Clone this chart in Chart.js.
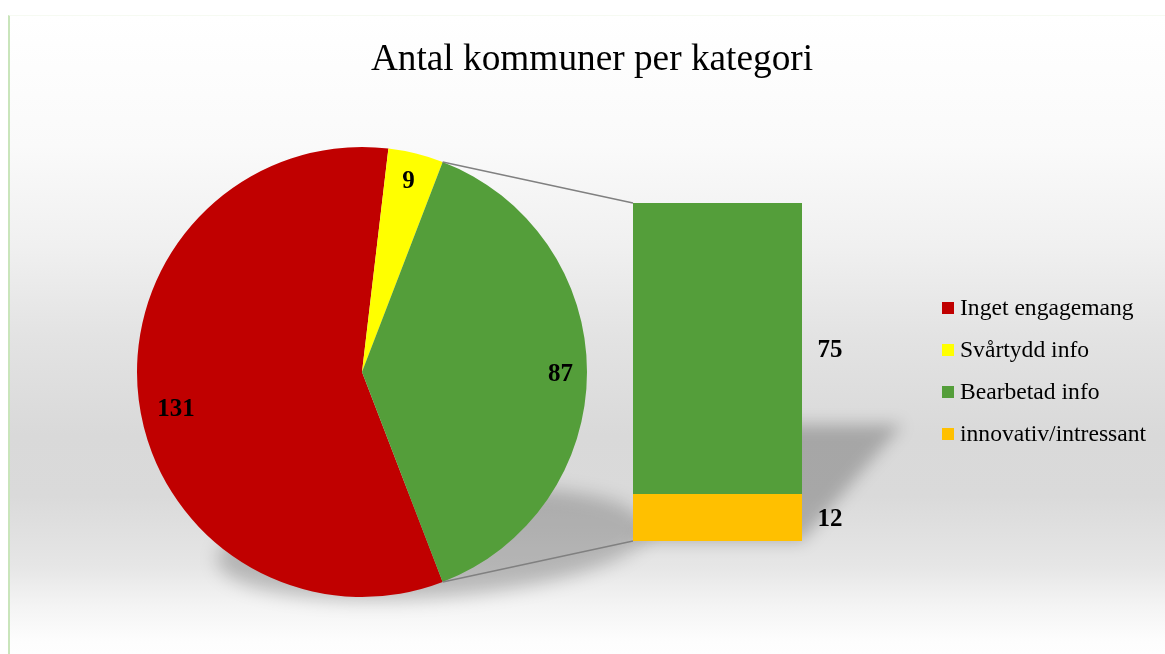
<!DOCTYPE html>
<html>
<head>
<meta charset="utf-8">
<script src="https://cdn.jsdelivr.net/npm/chart.js@4.4.1/dist/chart.umd.min.js"></script>
<style>
  html, body { margin:0; padding:0; }
  body { width:1165px; height:654px; overflow:hidden; background:#ffffff; position:relative; font-family:"Liberation Serif","Times New Roman",serif; }
  #frame { position:absolute; left:8px; top:15px; width:1170px; height:650px;
    border-left:2px solid #c9e5bb; border-top:1px solid #f6faf2;
    background: linear-gradient(to bottom, #ffffff 0px, #fafafa 130px, #f0f0f0 230px, #e3e3e3 320px, #d9d9d9 420px, #dadada 480px, #e6e6e6 550px, #f4f4f4 590px, #fdfdfd 625px, #ffffff 650px); }
  canvas { position:absolute; }
  #title { position:absolute; left:592px; top:39px; transform:translateX(-50%); white-space:nowrap; font-size:37.3px; line-height:1; color:#000; }
  .lg-text { position:absolute; white-space:nowrap; font-size:23.6px; line-height:1; color:#000; }
  .lg-box { position:absolute; width:12px; height:12px; }
</style>
</head>
<body>
<div id="frame"></div>
<canvas id="pie" width="1165" height="654" style="left:0;top:0;width:1165px;height:654px"></canvas>
<canvas id="bar" width="490" height="480" style="left:430px;top:140px;width:490px;height:480px"></canvas>
<div id="title"></div>
<div id="legend"></div>
<script>
const titleText = 'Antal kommuner per kategori';
const pieLabels = ['Inget engagemang', 'Svårtydd info', 'Bearbetad info'];
const pieValues = [131, 9, 87];
const pieColors = ['#C00000', '#FFFF00', '#549E3A'];
const barLabels = ['innovativ/intressant', 'Bearbetad info']; // bottom to top
const barValues = [12, 75];
const barColors = ['#FFC000', '#549E3A'];
const legendLabels = ['Inget engagemang', 'Svårtydd info', 'Bearbetad info', 'innovativ/intressant'];
const legendColors = ['#C00000', '#FFFF00', '#549E3A', '#FFC000'];

// label placement nudges (style only, pixels)
const pieLabelNudge = [[6, 14], [0, -3], [5, 3]];
const barLabelNudgeY = 2;

document.getElementById('title').textContent = titleText;
const lg = document.getElementById('legend');
legendLabels.forEach((t, i) => {
  const top = 295.5 + i * 42;
  const b = document.createElement('div');
  b.className = 'lg-box'; b.style.left = '942px'; b.style.top = (top + 6.5) + 'px'; b.style.background = legendColors[i];
  const s = document.createElement('div');
  s.className = 'lg-text'; s.style.left = '960px'; s.style.top = top + 'px'; s.textContent = t;
  lg.appendChild(b); lg.appendChild(s);
});

Chart.defaults.font.family = '"Liberation Serif","Times New Roman",serif';

// rotate so that the last ("other") slice is centred at 3 o'clock
const pieTotal = pieValues.reduce((a, b) => a + b, 0);
const before = pieValues.slice(0, pieValues.length - 1).reduce((a, b) => a + b, 0);
const rotation = ((90 - (before + pieValues[pieValues.length - 1] / 2) / pieTotal * 360) % 360 + 360) % 360;

const pieShadow = {
  id: 'pieShadow',
  beforeDatasetsDraw(chart) {
    const arc = chart.getDatasetMeta(0).data[0];
    if (!arc) return;
    const ctx = chart.ctx, R = arc.outerRadius;
    ctx.save();
    ctx.filter = 'blur(9px)';
    ctx.fillStyle = 'rgba(0,0,0,0.21)';
    ctx.translate(arc.x + 12, arc.y + R + 3);
    ctx.transform(0.92, 0, -0.26, 0.25, 0, 0);
    ctx.beginPath();
    ctx.arc(0, -R, R, 0, Math.PI * 2);
    ctx.fill();
    ctx.restore();
  }
};
const pieLabelsPlugin = {
  id: 'pieValueLabels',
  afterDatasetsDraw(chart) {
    const ctx = chart.ctx;
    const meta = chart.getDatasetMeta(0);
    ctx.save();
    ctx.font = 'bold 25px "Liberation Serif","Times New Roman",serif';
    ctx.fillStyle = '#000';
    ctx.textAlign = 'center';
    ctx.textBaseline = 'middle';
    meta.data.forEach((arc, i) => {
      const mid = (arc.startAngle + arc.endAngle) / 2;
      const r = arc.outerRadius * 0.86;
      const n = pieLabelNudge[i] || [0, 0];
      ctx.fillText(String(chart.data.datasets[0].data[i]), arc.x + Math.cos(mid) * r + n[0], arc.y + Math.sin(mid) * r + n[1]);
    });
    ctx.restore();
  }
};

const pieChart = new Chart(document.getElementById('pie'), {
  type: 'pie',
  data: { labels: pieLabels, datasets: [{ data: pieValues, backgroundColor: pieColors, borderWidth: 0 }] },
  options: {
    responsive: false, animation: false, rotation: rotation,
    layout: { padding: { left: 137, right: 578, top: 147, bottom: 57 } },
    plugins: { legend: { display: false }, tooltip: { enabled: false }, title: { display: false } }
  },
  plugins: [pieShadow, pieLabelsPlugin]
});

const barCanvas = document.getElementById('bar');
const barDecor = {
  id: 'barDecor',
  beforeDatasetsDraw(chart) {
    const ctx = chart.ctx;
    const m0 = chart.getDatasetMeta(0).data[0];
    const mN = chart.getDatasetMeta(chart.data.datasets.length - 1).data[0];
    const L = m0.x - m0.width / 2, W = m0.width, B = m0.base, T = mN.y, H = B - T;
    // shadow
    ctx.save();
    ctx.filter = 'blur(8px)';
    ctx.fillStyle = 'rgba(0,0,0,0.23)';
    ctx.translate(0, B);
    ctx.transform(1, 0, -0.296, 0.345, 0, 0);
    ctx.fillRect(L, -H, W, H);
    ctx.restore();
    // connector lines from the pie's "other" slice
    const other = pieChart.getDatasetMeta(0).data[pieValues.length - 1];
    const ox = barCanvas.offsetLeft, oy = barCanvas.offsetTop;
    const p1 = [other.x + Math.cos(other.startAngle) * other.outerRadius - ox, other.y + Math.sin(other.startAngle) * other.outerRadius - oy];
    const p2 = [other.x + Math.cos(other.endAngle) * other.outerRadius - ox, other.y + Math.sin(other.endAngle) * other.outerRadius - oy];
    ctx.save();
    ctx.strokeStyle = '#808080';
    ctx.lineWidth = 1.5;
    ctx.beginPath();
    ctx.moveTo(p1[0], p1[1]); ctx.lineTo(L, T);
    ctx.moveTo(p2[0], p2[1]); ctx.lineTo(L, B);
    ctx.stroke();
    ctx.restore();
  },
  afterDatasetsDraw(chart) {
    const ctx = chart.ctx;
    ctx.save();
    ctx.font = 'bold 25px "Liberation Serif","Times New Roman",serif';
    ctx.fillStyle = '#000';
    ctx.textAlign = 'center';
    ctx.textBaseline = 'middle';
    chart.data.datasets.forEach((ds, i) => {
      const el = chart.getDatasetMeta(i).data[0];
      ctx.fillText(String(ds.data[0]), el.x + el.width / 2 + 28, (el.y + el.base) / 2 + barLabelNudgeY);
    });
    ctx.restore();
  }
};

const barTotal = barValues.reduce((a, b) => a + b, 0);
new Chart(barCanvas, {
  type: 'bar',
  data: {
    labels: [''],
    datasets: barValues.map((v, i) => ({ label: barLabels[i], data: [v], backgroundColor: barColors[i], borderWidth: 0, barPercentage: 1, categoryPercentage: 1 }))
  },
  options: {
    responsive: false, animation: false,
    layout: { padding: { left: 203, right: 118, top: 63, bottom: 79 } },
    scales: {
      x: { stacked: true, display: false },
      y: { stacked: true, display: false, min: 0, max: barTotal }
    },
    plugins: { legend: { display: false }, tooltip: { enabled: false } }
  },
  plugins: [barDecor]
});
</script>
</body>
</html>
